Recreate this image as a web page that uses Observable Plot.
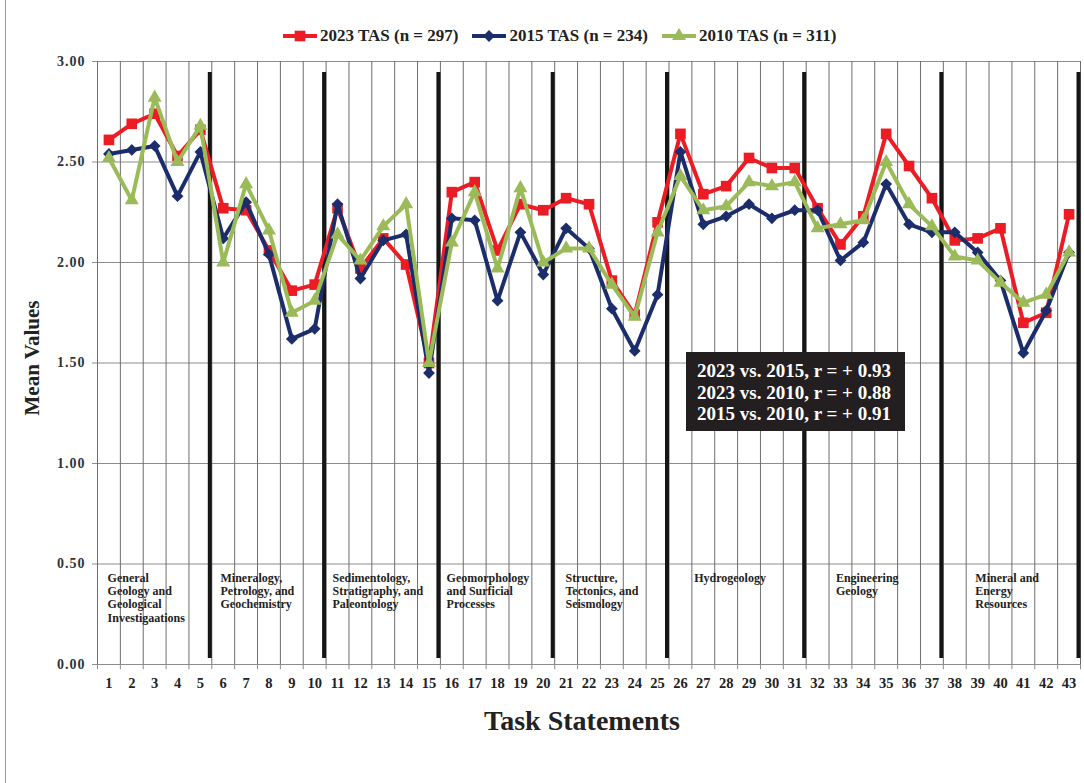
<!DOCTYPE html>
<html><head><meta charset="utf-8">
<script src="https://cdn.jsdelivr.net/npm/d3@7"></script>
<script src="https://cdn.jsdelivr.net/npm/@observablehq/plot@0.6"></script>
<style>
body{margin:0;background:#fff;font-family:"Liberation Serif","Times New Roman",serif;}
#wrap{position:relative;width:1084px;height:783px;overflow:hidden;background:#fff;}
#frame{position:absolute;left:5px;top:0;bottom:0;border-left:1px solid #9a9a9a;}
#legend{position:absolute;top:25px;left:283px;height:22px;display:flex;align-items:center;font-weight:bold;font-size:17px;color:#222;white-space:nowrap;}
.item{display:flex;align-items:center;margin-right:14px;}
.item svg{margin-right:3px;}
#chart{position:absolute;top:50px;left:0;}
#note{position:absolute;left:686px;top:352px;width:219px;height:79px;background:#231f20;color:#fff;font-weight:bold;font-size:19px;line-height:21.7px;box-sizing:border-box;padding:8px 0 0 11px;white-space:nowrap;}
</style></head>
<body>
<div id="wrap">
  <div id="frame"></div>
  <div id="legend"></div>
  <div id="chart"></div>
  <div id="note"></div>
</div>
<script>
// ---- data ----
const tasks = [1,2,3,4,5,6,7,8,9,10,11,12,13,14,15,16,17,18,19,20,21,22,23,24,25,26,27,28,29,30,31,32,33,34,35,36,37,38,39,40,41,42,43];
const tas2023 = [2.61,2.69,2.74,2.53,2.66, 2.27,2.26,2.06,1.86,1.89, 2.27,1.97,2.12,1.99,1.50, 2.35,2.40,2.06,2.29,2.26, 2.32,2.29,1.91,1.74,2.20, 2.64,2.34,2.38,2.52,2.47,2.47, 2.27,2.09,2.23,2.64,2.48,2.32, 2.11,2.12,2.17,1.70,1.75,2.24];
const tas2015 = [2.54,2.56,2.58,2.33,2.55, 2.12,2.30,2.04,1.62,1.67, 2.29,1.92,2.11,2.14,1.45, 2.22,2.21,1.81,2.15,1.94, 2.17,2.07,1.77,1.56,1.84, 2.55,2.19,2.23,2.29,2.22,2.26, 2.26,2.01,2.10,2.39,2.19,2.15, 2.15,2.05,1.91,1.55,1.76,2.05];
const tas2010 = [2.52,2.31,2.82,2.50,2.68, 2.00,2.39,2.16,1.75,1.81, 2.14,2.01,2.18,2.29,1.50, 2.10,2.35,1.97,2.37,2.00, 2.07,2.07,1.89,1.73,2.15, 2.43,2.26,2.28,2.40,2.38,2.40, 2.17,2.19,2.21,2.50,2.29,2.18, 2.03,2.01,1.90,1.80,1.84,2.05];
const seriesNames = ["2023 TAS (n = 297)","2015 TAS (n = 234)","2010 TAS (n = 311)"];
const groupNames = [
  "General\nGeology and\nGeological\nInvestigaations",
  "Mineralogy,\nPetrology, and\nGeochemistry",
  "Sedimentology,\nStratigraphy, and\nPaleontology",
  "Geomorphology\nand Surficial\nProcesses",
  "Structure,\nTectonics, and\nSeismology",
  "Hydrogeology",
  "Engineering\nGeology",
  "Mineral and\nEnergy\nResources"
];
const groupLastTask = [5,10,15,20,25,31,37,43];
const yTicks = [0,0.5,1,1.5,2,2.5,3];
const yTickLabels = ["0.00","0.50","1.00","1.50","2.00","2.50","3.00"];
const correlations = ["2023 vs. 2015, r = + 0.93","2023 vs. 2010, r = + 0.88","2015 vs. 2010, r = + 0.91"];
const xTitle = "Task Statements";
const yTitle = "Mean Values";

// ---- styling / layout ----
const colors = ["#ec1c24","#1b2d6b","#9bbb59"];
const symbols = ["square","diamond2","triangle"];
const radii = [6,5.3,5.2];
const labelAnchorTask = [0.94,5.88,10.78,15.77,20.97,26.6,32.8,38.9];
const boundaries = d3.range(0, tasks.length + 1).map(i => i + 0.5);

const seriesData = [tas2023, tas2015, tas2010].map(vals => tasks.map((t,i) => ({task:t, value:vals[i]})));

const marks = [
  Plot.ruleY(yTicks, {stroke:"#8c8c8c", strokeWidth:1}),
  Plot.ruleX(boundaries, {y1:0, y2:3, stroke:"#6e6e6e", strokeWidth:1}),
  Plot.ruleX(boundaries, {y1:0, y2:-0.026, stroke:"#8c8c8c", strokeWidth:1}),
  Plot.ruleX(groupLastTask.map(e => e + 0.5), {y1:0.03, y2:2.945, stroke:"#151515", strokeWidth:4, dx:-2}),
  Plot.axisY({ticks:yTicks, tickFormat:(d)=>yTickLabels[yTicks.indexOf(d)], tickSize:5, tickPadding:7, fontSize:14, fontWeight:"bold", label:null, stroke:"#8c8c8c", fill:"#333"}),
  Plot.axisX({ticks:tasks, tickFormat:(d)=>String(d), tickSize:0, tickPadding:13, fontSize:14.5, fontWeight:"bold", label:null, fill:"#222"}),
  Plot.text(groupNames, {x:(d,i)=>labelAnchorTask[i], y:()=>0.46, text:d=>d, textAnchor:"start", lineAnchor:"top", fontSize:12, fontWeight:"bold", lineHeight:1.12, fill:"#222"}),
  Plot.text([yTitle], {frameAnchor:"left", textAnchor:"middle", rotate:-90, dx:-65, dy:-5, fontSize:21, fontWeight:"bold", fill:"#222"}),
  Plot.text([xTitle], {frameAnchor:"bottom", textAnchor:"middle", dx:-7, dy:46, lineAnchor:"top", fontSize:28, fontWeight:"bold", fill:"#222"})
];
seriesData.forEach((d, k) => {
  marks.push(Plot.line(d, {x:"task", y:"value", stroke:colors[k], strokeWidth:4, strokeLinejoin:"round"}));
  marks.push(Plot.dot(d, {x:"task", y:"value", symbol:symbols[k], fill:colors[k], stroke:"none", r:radii[k]}));
});

const chart = Plot.plot({
  width:1084, height:733,
  marginLeft:97, marginRight:4, marginTop:11, marginBottom:119,
  x:{type:"linear", domain:[0.5, 43.5]},
  y:{domain:[0,3]},
  style:{fontFamily:"'Liberation Serif','Times New Roman',serif", background:"transparent", color:"#222"},
  marks
});
document.getElementById("chart").appendChild(chart);
document.querySelectorAll('#chart g[aria-label="y-axis tick label"] text').forEach(t => t.setAttribute("letter-spacing","1"));

// legend
const legend = document.getElementById("legend");
seriesNames.forEach((name, k) => {
  const item = document.createElement("div");
  item.className = "item";
  const sym = d3.symbol(k===0 ? d3.symbolSquare : k===1 ? d3.symbolDiamond2 : d3.symbolTriangle, Math.PI*radii[k]*radii[k])();
  item.innerHTML = `<svg width="34" height="16"><line x1="0" x2="34" y1="8" y2="8" stroke="${colors[k]}" stroke-width="4"/><path d="${sym}" transform="translate(17,8)" fill="${colors[k]}"/></svg><span>${name}</span>`;
  legend.appendChild(item);
});

// correlation note
document.getElementById("note").innerHTML = correlations.map(s => `<div>${s}</div>`).join("");
</script>
</body></html>
